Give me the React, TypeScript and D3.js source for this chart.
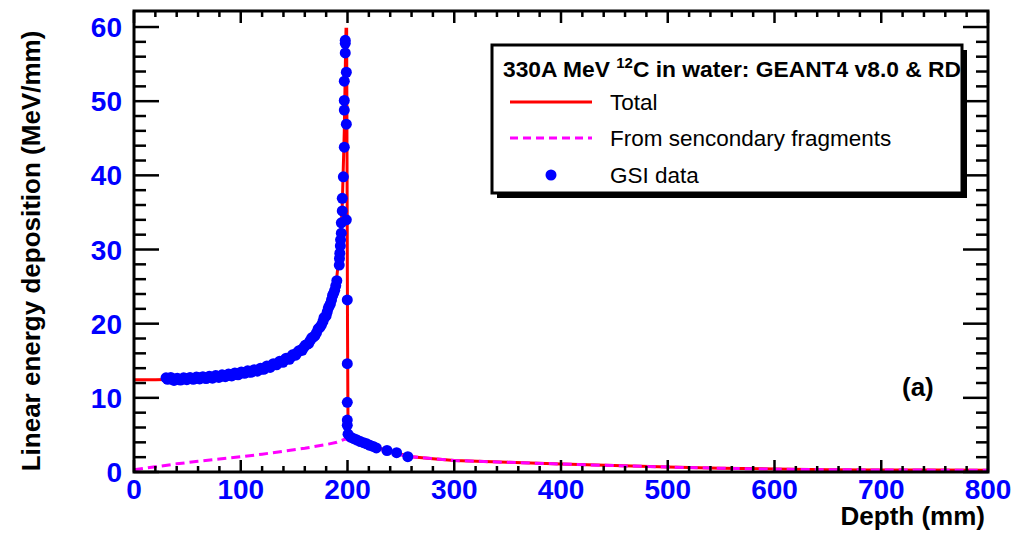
import React, { useEffect, useRef } from 'react';
import * as d3 from 'd3';

// Total energy deposition (Geant4), [depth mm, MeV/mm]
const totalCurve: [number, number][] = [
  [0, 12.45], [20, 12.45], [40, 12.5], [60, 12.65], [80, 12.9], [100, 13.3], [120, 13.9],
  [140, 15.0], [160, 16.9], [170, 18.5], [180, 21.2], [185, 23.2], [190, 26.3], [193, 30.5],
  [195, 35.5], [197, 46], [198, 55], [198.6, 59.7], [199.2, 59.7], [199.6, 40], [200, 20],
  [200.4, 8], [200.8, 5.5], [203, 4.8], [210, 4.25], [220, 3.7], [230, 3.2], [240, 2.8],
  [250, 2.4], [260, 2.05], [280, 1.8], [300, 1.55], [350, 1.3], [400, 1.08], [450, 0.86],
  [500, 0.67], [550, 0.52], [600, 0.4], [650, 0.32], [700, 0.28], [750, 0.26], [800, 0.25]
];

// Contribution from secondary fragments
const secondaryCurve: [number, number][] = [
  [0, 0.3], [20, 0.7], [40, 1.1], [60, 1.45], [80, 1.75], [100, 2.05], [120, 2.4], [140, 2.8],
  [160, 3.2], [180, 3.7], [190, 4.0], [198, 4.45], [202, 4.2], [210, 3.9], [220, 3.4],
  [230, 3.0], [240, 2.65], [250, 2.3], [260, 2.05], [280, 1.8], [300, 1.55], [350, 1.3],
  [400, 1.08], [450, 0.86], [500, 0.67], [550, 0.5], [600, 0.38], [650, 0.31], [700, 0.27],
  [750, 0.25], [800, 0.24]
];

// GSI measurements
const gsiData: [number, number][] = [
  [30, 12.7], [33, 12.6], [36, 12.5], [39, 12.5], [42, 12.5], [45, 12.5], [48, 12.6], [51, 12.6],
  [54, 12.6], [57, 12.6], [60, 12.7], [63, 12.7], [66, 12.7], [69, 12.7], [72, 12.8], [75, 12.8],
  [78, 12.9], [81, 12.9], [84, 13.0], [87, 13.0], [90, 13.1], [93, 13.1], [96, 13.2], [99, 13.3],
  [102, 13.4], [105, 13.5], [108, 13.5], [111, 13.6], [114, 13.7], [117, 13.8], [120, 13.9],
  [123, 14.1], [126, 14.2], [129, 14.4], [132, 14.5], [135, 14.7], [138, 14.9], [141, 15.1],
  [144, 15.3], [147, 15.5], [150, 15.8], [153, 16.1], [156, 16.4], [159, 16.8], [162, 17.2],
  [165, 17.7], [168, 18.2], [171, 18.8], [174, 19.5], [177, 20.3], [179, 20.9], [181, 21.6],
  [183, 22.4], [185, 23.2], [187, 24.1], [189, 25.1], [190, 25.8],
  // second run, slightly scattered around the first
  [31.5, 12.5], [34.5, 12.75], [37.5, 12.35], [40.5, 12.65], [43.5, 12.4], [46.5, 12.7],
  [49.5, 12.45], [52.5, 12.75], [55.5, 12.5], [58.5, 12.8], [61.5, 12.55], [64.5, 12.85],
  [67.5, 12.6], [70.5, 12.9], [73.5, 12.65], [76.5, 13.0], [79.5, 12.75], [82.5, 13.1],
  [85.5, 12.85], [88.5, 13.2], [91.5, 12.95], [94.5, 13.35], [97.5, 13.1], [100.5, 13.5],
  [103.5, 13.3], [106.5, 13.65], [109.5, 13.45], [112.5, 13.8], [115.5, 13.6], [118.5, 14.0],
  [121.5, 13.85], [124.5, 14.3], [127.5, 14.1], [130.5, 14.6], [133.5, 14.45], [136.5, 14.95],
  [139.5, 14.8], [142.5, 15.35], [145.5, 15.2], [148.5, 15.8], [151.5, 15.75], [154.5, 16.35],
  [157.5, 16.4], [160.5, 17.1], [163.5, 17.3], [166.5, 18.1], [169.5, 18.4], [172.5, 19.3],
  [175.5, 19.8], [178, 20.8], [180, 21.1], [182, 22.1], [184, 22.7], [186, 23.8], [188, 24.5],
  [192.3, 27.9], [192.5, 28.8], [192.8, 29.5], [193.3, 30.5], [193.5, 31.3], [194.2, 32.2],
  [194.2, 33.6], [195.1, 35.2], [195.1, 36.9], [196.1, 39.8], [197, 43.8], [198.9, 46.9],
  [197, 48.8], [197, 50.1], [197, 52.7], [198.9, 53.9], [197.9, 56.5], [197.9, 57.8], [197.9, 58.2],
  [198.9, 34.0], [199.8, 23.2], [199.8, 14.6], [199.8, 9.4], [199.8, 7.0], [199.8, 6.3],
  [200.5, 5.1], [203, 4.7], [206, 4.5], [209, 4.3], [212, 4.1], [215, 3.95], [218, 3.8],
  [221, 3.6], [224, 3.45], [227, 3.25], [237, 2.9], [246, 2.6], [256.5, 2.06]
];

const xTicks = [0, 100, 200, 300, 400, 500, 600, 700, 800];
const yTicks = [0, 10, 20, 30, 40, 50, 60];
const xMinor = d3.range(0, 801, 20);
const yMinor = d3.range(0, 62, 2);

const legendTitle = '330A MeV ';
const legendSup = '12';
const legendTitleRest = 'C in water: GEANT4 v8.0 & RD';
const legendItems = ['Total', 'From sencondary fragments', 'GSI data'];

const FONT = '"Liberation Sans", Arial, Helvetica, sans-serif';

const App = () => {
  const svgRef = useRef<SVGSVGElement>(null);

  useEffect(() => {
    if (!svgRef.current) return;
    const svg = d3.select(svgRef.current);
    svg.selectAll('*').remove();

    const left = 134, right = 988, top = 11, bottom = 472;
    const x = d3.scaleLinear().domain([0, 800]).range([left, right]);
    const y = d3.scaleLinear().domain([0, 62.16]).range([bottom, top]);

    svg.append('rect').attr('width', 1026).attr('height', 536).attr('fill', '#fff');

    const line = d3.line<[number, number]>()
      .x(d => x(d[0]))
      .y(d => y(d[1]));

    // Total (red)
    svg.append('path')
      .datum(totalCurve)
      .attr('fill', 'none')
      .attr('stroke', '#ff0000')
      .attr('stroke-width', 3)
      .attr('d', line);

    // Secondary fragments (magenta dashed)
    svg.append('path')
      .datum(secondaryCurve)
      .attr('fill', 'none')
      .attr('stroke', '#ff00ff')
      .attr('stroke-width', 3)
      .attr('stroke-dasharray', '9,5')
      .attr('d', line);

    // GSI data points
    svg.append('g')
      .selectAll('circle')
      .data(gsiData)
      .enter()
      .append('circle')
      .attr('cx', d => x(d[0]))
      .attr('cy', d => y(d[1]))
      .attr('r', 5.5)
      .attr('fill', '#0000ff');

    // Ticks, inward on all four sides
    const ticks = svg.append('g').attr('stroke', '#000').attr('stroke-width', 2.5);
    xMinor.forEach(v => {
      const len = v % 100 === 0 ? 12 : 6;
      ticks.append('line').attr('x1', x(v)).attr('x2', x(v)).attr('y1', bottom).attr('y2', bottom - len);
      ticks.append('line').attr('x1', x(v)).attr('x2', x(v)).attr('y1', top).attr('y2', top + len);
    });
    yMinor.forEach(v => {
      const len = v % 10 === 0 ? 25 : 12;
      ticks.append('line').attr('x1', left).attr('x2', left + len).attr('y1', y(v)).attr('y2', y(v));
      ticks.append('line').attr('x1', right).attr('x2', right - len).attr('y1', y(v)).attr('y2', y(v));
    });

    // Frame
    svg.append('rect')
      .attr('x', left).attr('y', top)
      .attr('width', right - left).attr('height', bottom - top)
      .attr('fill', 'none')
      .attr('stroke', '#000')
      .attr('stroke-width', 3);

    // Tick labels
    svg.append('g')
      .selectAll('text')
      .data(xTicks)
      .enter()
      .append('text')
      .attr('x', d => x(d))
      .attr('y', 499)
      .attr('text-anchor', 'middle')
      .style('font-family', FONT)
      .style('font-weight', 'bold')
      .style('font-size', '28px')
      .attr('fill', '#0000ff')
      .text(d => d);

    svg.append('g')
      .selectAll('text')
      .data(yTicks)
      .enter()
      .append('text')
      .attr('x', 122)
      .attr('y', d => y(d) + 10)
      .attr('text-anchor', 'end')
      .style('font-family', FONT)
      .style('font-weight', 'bold')
      .style('font-size', '28px')
      .attr('fill', '#0000ff')
      .text(d => d);

    // Axis titles
    svg.append('text')
      .attr('x', 985)
      .attr('y', 525)
      .attr('text-anchor', 'end')
      .style('font-family', FONT)
      .style('font-weight', 'bold')
      .style('font-size', '26px')
      .text('Depth (mm)');

    svg.append('text')
      .attr('transform', 'translate(40,251) rotate(-90)')
      .attr('text-anchor', 'middle')
      .style('font-family', FONT)
      .style('font-weight', 'bold')
      .style('font-size', '26px')
      .text('Linear energy deposition (MeV/mm)');

    svg.append('text')
      .attr('x', 902)
      .attr('y', 396)
      .style('font-family', FONT)
      .style('font-weight', 'bold')
      .style('font-size', '26px')
      .text('(a)');

    // Legend
    const lx = 492, ly = 45, lw = 470, lh = 148;
    svg.append('rect').attr('x', lx + 5).attr('y', ly + 5).attr('width', lw).attr('height', lh).attr('fill', '#000');
    svg.append('rect').attr('x', lx).attr('y', ly).attr('width', lw).attr('height', lh)
      .attr('fill', '#fff').attr('stroke', '#000').attr('stroke-width', 3);

    const title = svg.append('text')
      .attr('x', 503)
      .attr('y', 77)
      .style('font-family', FONT)
      .style('font-weight', 'bold')
      .style('font-size', '22.8px');
    title.append('tspan').text(legendTitle);
    title.append('tspan').attr('dy', -9).style('font-size', '15px').text(legendSup);
    title.append('tspan').attr('dy', 9).text(legendTitleRest);

    const rowY = [102, 138, 175];
    svg.append('line').attr('x1', 510).attr('x2', 592).attr('y1', rowY[0]).attr('y2', rowY[0])
      .attr('stroke', '#ff0000').attr('stroke-width', 3);
    svg.append('line').attr('x1', 510).attr('x2', 592).attr('y1', rowY[1]).attr('y2', rowY[1])
      .attr('stroke', '#ff00ff').attr('stroke-width', 3).attr('stroke-dasharray', '8,5');
    svg.append('circle').attr('cx', 551).attr('cy', rowY[2]).attr('r', 5.5).attr('fill', '#0000ff');

    legendItems.forEach((t, i) => {
      svg.append('text')
        .attr('x', 610)
        .attr('y', rowY[i] + 8)
        .style('font-family', FONT)
        .style('font-size', '22.5px')
        .text(t);
    });
  }, []);

  return (
    <div style={{ position: 'absolute', left: 0, top: 0, width: 1026, height: 536 }}>
      <svg ref={svgRef} width={1026} height={536} style={{ display: 'block' }}></svg>
    </div>
  );
};

export default App;
